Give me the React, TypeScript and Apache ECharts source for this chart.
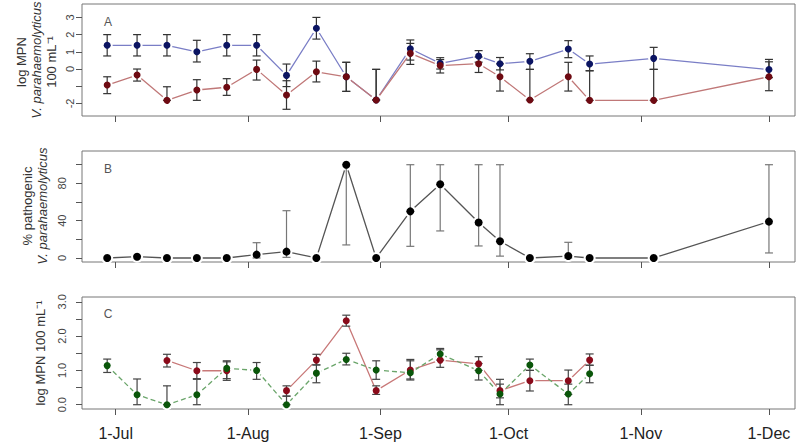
import React, { useEffect, useRef } from "react";
import * as echarts from "echarts";

// Sampling dates (2009 season)
const sampleDates = ["06-29","07-06","07-13","07-20","07-27","08-03","08-10","08-17","08-24","08-31","09-08","09-15","09-24","09-29","10-06","10-15","10-20","11-04","12-01"];
const monthTicks = ["07-01","08-01","09-01","10-01","11-01","12-01"];
const monthLabels = ["1-Jul","1-Aug","1-Sep","1-Oct","1-Nov","1-Dec"];

// Panel A: log MPN V. parahaemolyticus 100 mL-1
const totalA = [1.38,1.38,1.38,1.0,1.38,1.38,-0.37,2.37,-0.45,-1.8,1.18,0.33,0.75,0.31,0.45,1.16,0.29,0.62,-0.03];
const totalALo = [0.76,0.76,0.76,0.41,0.76,0.76,-1.02,1.74,-1.3,-1.8,0.52,0.0,0.4,-0.05,-0.02,0.66,-0.1,-0.02,-0.5];
const totalAHi = [2.0,2.0,2.0,1.67,2.0,2.0,0.29,3.0,0.39,-0.02,1.69,0.66,1.07,0.67,0.89,1.65,0.76,1.26,0.56];
const pathA = [-0.93,-0.35,-1.82,-1.22,-1.06,-0.02,-1.51,-0.16,-0.45,-1.8,0.91,0.2,0.31,-0.45,-1.8,-0.45,-1.82,-1.82,-0.45];
const pathALo = [-1.43,-0.7,-1.82,-1.82,-1.53,-0.64,-2.34,-0.75,-1.3,-1.8,0.27,-0.23,-0.2,-1.28,-1.8,-1.28,-1.82,-1.82,-1.26];
const pathAHi = [-0.45,0.0,-1.03,-0.62,-0.56,0.52,-0.68,0.46,0.39,-0.02,1.49,0.55,0.7,0.3,-0.02,0.39,-0.1,-0.02,0.42];

// Panel B: % pathogenic
const pctB = [0,1.4,0,0,0,3.6,6.8,0,100,0,50,79,38,18,0,2.1,0,0,39];
const pctBLo = [null,null,null,null,null,0,0.7,null,14,null,12.5,29,12.9,2,null,0,null,null,5.4];
const pctBHi = [null,null,null,null,null,16.4,50.7,null,100,null,100,100,100,100,null,16.8,null,null,100];

// Panel C: log MPN 100 mL-1 (first 17 dates)
const redC = [null,null,1.29,0.99,0.99,null,0.41,1.3,2.45,0.41,1.01,1.3,1.19,0.41,0.7,0.7,1.3];
const redCLo = [null,null,1.1,0.76,0.76,null,0.25,1.16,2.29,0.3,0.75,1.09,1.0,0.2,0.4,0.3,1.15];
const redCHi = [null,null,1.47,1.23,1.25,null,0.55,1.47,2.61,0.55,1.28,1.6,1.4,0.74,1.0,1.01,1.48];
const greenC = [1.14,0.29,0.0,0.29,1.06,1.0,0.0,0.92,1.32,1.01,0.93,1.48,0.99,0.31,1.16,0.31,0.9];
const greenCLo = [0.94,0,0,0,0.71,0.74,0,0.64,1.16,0.74,0.72,1.3,0.72,0,1.0,0,0.64];
const greenCHi = [1.33,0.75,0.55,0.74,1.28,1.23,0.25,1.16,1.5,1.28,1.32,1.64,1.2,0.6,1.33,0.6,1.15];

const toDay = (md: string) => {
  const [m, d] = md.split("-").map(Number);
  return (Date.UTC(2009, m - 1, d) - Date.UTC(2009, 6, 1)) / 86400000;
};
const days = sampleDates.map(toDay);
const tickDays = monthTicks.map(toDay);

const FONT = "'Liberation Sans', Arial, sans-serif";

function errSeries(idx: number, lo: (number | null)[], hi: (number | null)[], color: string) {
  const data: number[][] = [];
  lo.forEach((l, i) => {
    const h = hi[i];
    if (l != null && h != null) data.push([days[i], l, h]);
  });
  return {
    type: "custom",
    xAxisIndex: idx,
    yAxisIndex: idx,
    z: 3,
    encode: { x: 0, y: [1, 2] },
    data,
    renderItem: (_p: any, api: any) => {
      const x = api.value(0);
      const a = api.coord([x, api.value(1)]);
      const b = api.coord([x, api.value(2)]);
      const w = 4;
      const style = { stroke: color, lineWidth: 1.2 };
      return {
        type: "group",
        children: [
          { type: "line", shape: { x1: a[0], y1: a[1], x2: b[0], y2: b[1] }, style },
          { type: "line", shape: { x1: a[0] - w, y1: a[1], x2: a[0] + w, y2: a[1] }, style },
          { type: "line", shape: { x1: b[0] - w, y1: b[1], x2: b[0] + w, y2: b[1] }, style },
        ],
      };
    },
  };
}

// Connecting line with white gaps around points (R type "b"), then points on top
function lineWithPoints(idx: number, vals: (number | null)[], lineColor: string, dotColor: string, dashed = false, size = 7) {
  const data = vals.map((v, i) => [days[i], v == null ? "-" : v]);
  return [
    {
      type: "line",
      xAxisIndex: idx,
      yAxisIndex: idx,
      z: 2,
      data,
      connectNulls: false,
      symbol: "circle",
      symbolSize: size + 4,
      itemStyle: { color: "#fff", borderWidth: 0 },
      lineStyle: { color: lineColor, width: 1.3, type: dashed ? [5, 3] : "solid" },
    },
    {
      type: "scatter",
      xAxisIndex: idx,
      yAxisIndex: idx,
      z: 4,
      data: data.filter((d) => d[1] !== "-"),
      symbol: "circle",
      symbolSize: size,
      itemStyle: { color: dotColor, opacity: 1 },
    },
  ];
}

const gridDefs = [
  { top: 4, height: 112 },
  { top: 151, height: 111 },
  { top: 297, height: 112 },
];

export default function App() {
  const ref = useRef<HTMLDivElement>(null);
  useEffect(() => {
    if (!ref.current) return;
    const chart = echarts.init(ref.current, null, { renderer: "svg" });
    const xAxes = gridDefs.map((_, i) => ({
      type: "value",
      gridIndex: i,
      position: "bottom",
      min: -7.9,
      max: 159.1,
      axisLine: { show: false, onZero: false },
      splitLine: { show: false },
      axisTick: { show: true, customValues: tickDays, length: 6, lineStyle: { color: "#555" } },
      axisLabel: {
        show: i === 2,
        customValues: tickDays,
        margin: 16,
        fontSize: 16,
        color: "#222",
        fontFamily: FONT,
        formatter: (v: number) => monthLabels[tickDays.indexOf(v)] ?? "",
      },
    }));
    const yCommon = {
      type: "value",
      position: "left",
      splitLine: { show: false },
      axisLine: { show: false, onZero: false },
    };
    const yAxes = [
      {
        ...yCommon,
        gridIndex: 0,
        min: -2.73,
        max: 3.78,
        axisTick: { show: true, customValues: [-2, -1, 0, 1, 2, 3], length: 6, lineStyle: { color: "#555" } },
        axisLabel: { customValues: [-2, 0, 1, 2, 3], rotate: 90, margin: 7, fontSize: 11, color: "#444", fontFamily: FONT },
      },
      {
        ...yCommon,
        gridIndex: 1,
        min: -4.3,
        max: 114.7,
        axisTick: { show: true, customValues: [0, 20, 40, 60, 80, 100], length: 6, lineStyle: { color: "#555" } },
        axisLabel: { customValues: [0, 40, 80], rotate: 90, margin: 15, fontSize: 11, color: "#444", fontFamily: FONT },
      },
      {
        ...yCommon,
        gridIndex: 2,
        min: -0.125,
        max: 3.14,
        axisTick: { show: true, customValues: [0, 0.5, 1, 1.5, 2, 2.5, 3], length: 6, lineStyle: { color: "#555" } },
        axisLabel: {
          customValues: [0, 1, 2, 3],
          rotate: 90,
          margin: 15,
          fontSize: 11,
          color: "#444",
          fontFamily: FONT,
          formatter: (v: number) => v.toFixed(1),
        },
      },
    ];
    const rotText = (text: string, x: number, y: number, italic = false, size = 13) => ({
      type: "text",
      x,
      y,
      rotation: Math.PI / 2,
      style: {
        text,
        fontSize: size,
        fontFamily: FONT,
        fontStyle: italic ? "italic" : "normal",
        fill: "#333",
        align: "center",
        verticalAlign: "middle",
      },
    });
    const letter = (text: string, x: number, y: number) => ({
      type: "text",
      x,
      y,
      style: { text, fontSize: 12, fontFamily: FONT, fill: "#555", align: "center", verticalAlign: "middle" },
    });
    chart.setOption({
      animation: false,
      backgroundColor: "#fff",
      textStyle: { fontFamily: FONT },
      grid: gridDefs.map((g) => ({
        left: 82,
        width: 713,
        top: g.top,
        height: g.height,
        show: true,
        borderColor: "#777",
        borderWidth: 1,
        backgroundColor: "transparent",
      })),
      xAxis: xAxes,
      yAxis: yAxes,
      graphic: [
        rotText("log MPN", 21, 62),
        rotText("V. parahaemolyticus", 36, 60, true),
        rotText("100 mL⁻¹", 51, 62),
        rotText("% pathogenic", 27, 206),
        rotText("V. parahaemolyticus", 42, 206, true),
        rotText("log MPN 100 mL⁻¹", 40, 353),
        letter("A", 108, 22),
        letter("B", 108, 169),
        letter("C", 108, 314),
      ],
      series: [
        ...lineWithPoints(0, totalA, "#7a7ec6", "#0b1462"),
        ...lineWithPoints(0, pathA, "#c07878", "#6e0a12"),
        errSeries(0, totalALo, totalAHi, "#333"),
        errSeries(0, pathALo, pathAHi, "#333"),
        ...lineWithPoints(1, pctB, "#555", "#000", false, 8),
        errSeries(1, pctBLo, pctBHi, "#777"),
        ...lineWithPoints(2, redC, "#c87878", "#8a0a1a"),
        ...lineWithPoints(2, greenC, "#6aa56a", "#0a560a", true),
        errSeries(2, redCLo, redCHi, "#444"),
        errSeries(2, greenCLo, greenCHi, "#444"),
      ],
    });
    return () => chart.dispose();
  }, []);
  return (
    <div
      ref={ref}
      style={{ position: "fixed", left: 0, top: 0, width: 800, height: 447, background: "#fff" }}
    />
  );
}
